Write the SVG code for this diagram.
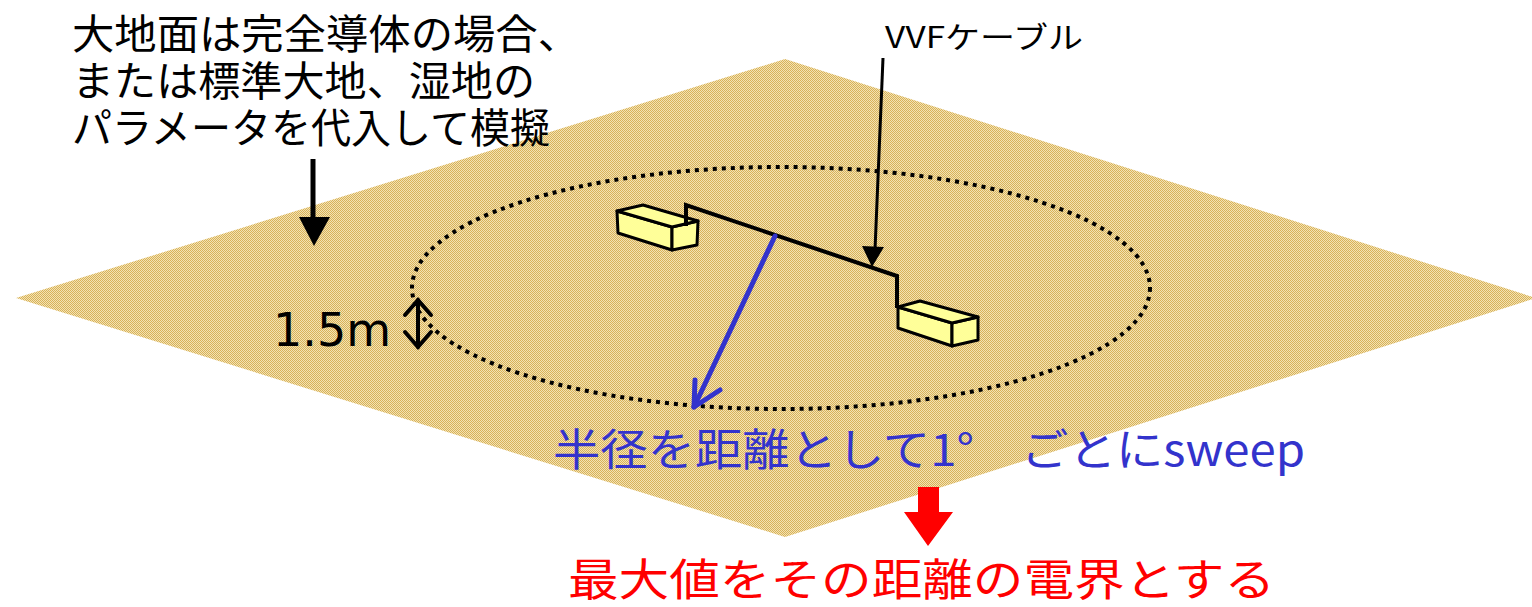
<svg xmlns="http://www.w3.org/2000/svg" width="1532" height="607" viewBox="0 0 1532 607">
  <defs>
    <!-- dithered ground texture -->
    <pattern id="ground" patternUnits="userSpaceOnUse" width="2" height="2">
      <rect width="2" height="2" fill="#F3E3B2"/>
      <rect x="0" y="0" width="1" height="1" fill="#D8B15A"/>
      <rect x="1" y="1" width="1" height="1" fill="#D8B15A"/>
    </pattern>
  </defs>
  <style>
    .jp { font-family: "Noto Sans CJK JP", "Noto Sans", sans-serif; }
    .box { fill: #FFFF99; stroke: #000; stroke-width: 3; stroke-linejoin: round; }
    .cable { fill: none; stroke: #000; stroke-width: 4; stroke-linejoin: miter; }
  </style>

  <!-- ground plane -->
  <g id="ground-plane">
    <polygon points="16,298 785,59 1536,298 785,537" fill="url(#ground)"/>
  </g>

  <!-- sweep circle at 1.5 m height -->
  <g id="sweep-circle">
    <ellipse cx="781" cy="288" rx="369" ry="121" fill="none" stroke="#000" stroke-width="4" stroke-dasharray="4 5"/>
  </g>

  <!-- source box -->
  <g id="box-left">
    <polygon class="box" points="617,211 672,227 672,250 618,233"/>
    <polygon class="box" points="672,227 698,221 697,245 672,250"/>
    <polygon class="box" points="617,211 643,205 698,221 672,227"/>
  </g>

  <!-- load box -->
  <g id="box-right">
    <polygon class="box" points="898,307 952,323 952,346 898,328"/>
    <polygon class="box" points="952,323 978,317 978,340 952,346"/>
    <polygon class="box" points="898,307 920,301 978,317 952,323"/>
  </g>

  <!-- VVF cable -->
  <g id="cable">
    <polyline class="cable" points="686,226 686,205 897,276 897,308"/>
  </g>

  <g id="connectors">
    <!-- note pointer to the ground -->
    <line x1="313" y1="159" x2="313" y2="220" stroke="#000" stroke-width="5"/>
    <polygon points="299,217 330,217 314,246" fill="#000"/>
    <!-- cable label pointer -->
    <line x1="883" y1="58" x2="875" y2="250" stroke="#000" stroke-width="3"/>
    <polygon points="862,246 884,247 872,267" fill="#000"/>
    <!-- height indicator -->
    <g fill="none" stroke="#000" stroke-width="4" stroke-linecap="round" stroke-linejoin="miter">
      <line x1="418" y1="300" x2="418" y2="347"/>
      <polyline points="405,315 418,300 431,315"/>
      <polyline points="405,332 418,347 431,332"/>
    </g>
    <!-- radius arrow -->
    <g fill="none" stroke="#3333CC" stroke-width="5" stroke-linecap="round" stroke-linejoin="round">
      <line x1="775" y1="236" x2="694" y2="407"/>
      <polyline points="695,380 694,407 720,390"/>
    </g>
    <!-- result arrow -->
    <polygon points="918,487 939,487 939,512 953,512 928,546 904,512 918,512" fill="#FF0000"/>
  </g>

  <!-- labels -->
  <g id="label-note">
    <text class="jp" font-size="41" fill="#000">
      <tspan x="72" y="49" textLength="508" lengthAdjust="spacingAndGlyphs">大地面は完全導体の場合、</tspan>
      <tspan x="72" y="96" textLength="463" lengthAdjust="spacingAndGlyphs">または標準大地、湿地の</tspan>
      <tspan x="72" y="143" textLength="478" lengthAdjust="spacingAndGlyphs">パラメータを代入して模擬</tspan>
    </text>
  </g>
  <g id="label-vvf">
    <text class="jp" x="885" y="48" font-size="30" fill="#000" textLength="198" lengthAdjust="spacingAndGlyphs">VVFケーブル</text>
  </g>
  <g id="label-height">
    <text x="273" y="346" font-family="DejaVu Sans, sans-serif" font-size="46" fill="#000">1.5m</text>
  </g>
  <g id="label-sweep">
    <text class="jp" x="553" y="466" font-size="44" fill="#3333CC" textLength="752" lengthAdjust="spacingAndGlyphs">半径を距離として1°　ごとにsweep</text>
  </g>
  <g id="label-result">
    <text class="jp" x="568" y="596" font-size="44" fill="#FF0000" textLength="707" lengthAdjust="spacingAndGlyphs">最大値をその距離の電界とする</text>
  </g>
</svg>
